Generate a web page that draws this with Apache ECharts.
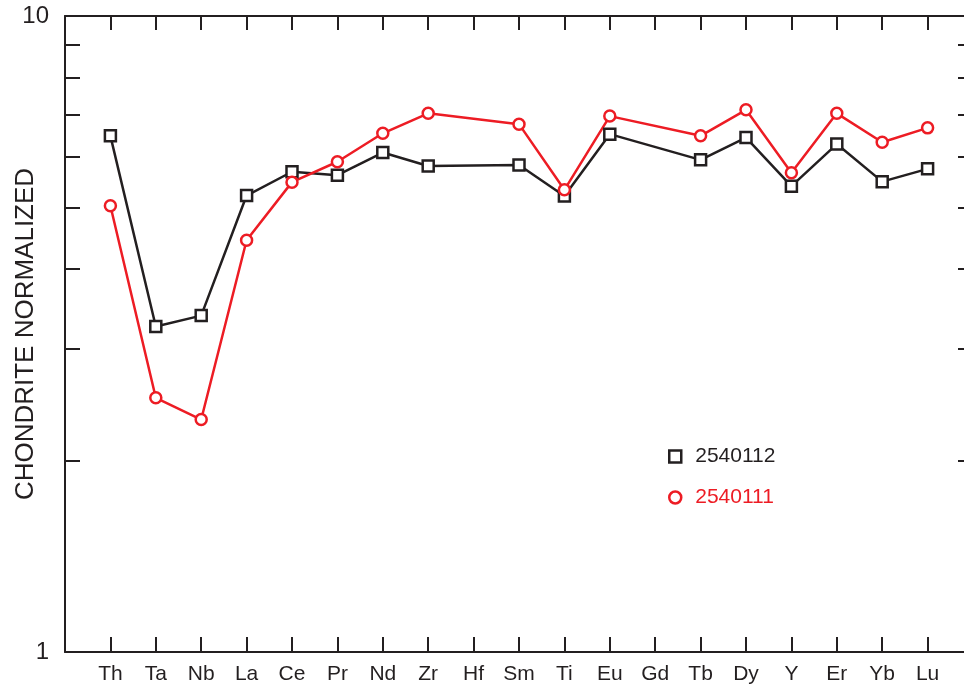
<!DOCTYPE html>
<html>
<head>
<meta charset="utf-8">
<script src="https://cdn.jsdelivr.net/npm/echarts@6/dist/echarts.min.js"></script>
<style>
html,body{margin:0;padding:0;background:#fff;}
#chart{width:964px;height:685px;}
</style>
</head>
<body>
<div id="chart"></div>
<script>
const categories = ['Th','Ta','Nb','La','Ce','Pr','Nd','Zr','Hf','Sm','Ti','Eu','Gd','Tb','Dy','Y','Er','Yb','Lu'];
const s2540112 = [6.48,3.25,3.38,5.22,5.69,5.62,6.10,5.81,null,5.83,5.21,6.52,null,5.94,6.44,5.40,6.29,5.49,5.75];
const s2540111 = [5.03,2.51,2.32,4.44,5.48,5.90,6.54,7.03,null,6.76,5.33,6.96,null,6.48,7.12,5.67,7.03,6.33,6.67];
const yTickValues = [1,2,3,4,5,6,7,8,9,10];
const yLabelValues = [1,10];

const BLACK = '#231f20';
const RED = '#ed1c24';
const FONT = 'Liberation Sans, Arial, Helvetica, sans-serif';

// pad the category axis with one blank slot at each end
const axisCats = [''].concat(categories, [' ']);
const pad = a => [null].concat(a, [null]);
const tickFilter = (idx, val) => String(val).trim() !== '';

const chart = echarts.init(document.getElementById('chart'), null, {renderer:'canvas'});
chart.setOption({
  animation: false,
  backgroundColor: '#fff',
  grid: {left: 65, top: 16, width: 908, bottom: 33, containLabel: false, outerBoundsMode: 'none'},
  xAxis: [{
    type: 'category', data: axisCats, boundaryGap: false, position: 'bottom',
    axisLine: {lineStyle: {color: BLACK, width: 2}},
    axisTick: {inside: true, length: 15, interval: tickFilter, lineStyle: {color: BLACK, width: 2}},
    axisLabel: {interval: 0, color: BLACK, fontSize: 21, fontFamily: FONT, margin: 12},
    splitLine: {show: false}
  }, {
    type: 'category', data: axisCats, boundaryGap: false, position: 'top',
    axisLine: {lineStyle: {color: BLACK, width: 2}},
    axisTick: {inside: true, length: 14, interval: tickFilter, lineStyle: {color: BLACK, width: 2}},
    axisLabel: {show: false},
    splitLine: {show: false}
  }],
  yAxis: [{
    type: 'log', logBase: 10, min: 1, max: 10, position: 'left',
    name: 'CHONDRITE NORMALIZED', nameLocation: 'middle', nameGap: 26, nameRotate: 90,
    nameMoveOverlap: false,
    nameTextStyle: {color: BLACK, fontSize: 26, fontFamily: FONT},
    axisLine: {show: true, lineStyle: {color: BLACK, width: 2}},
    axisTick: {show: true, inside: true, length: 15, customValues: yTickValues, lineStyle: {color: BLACK, width: 2}},
    axisLabel: {customValues: yLabelValues, color: BLACK, fontSize: 24, fontFamily: FONT, margin: 16},
    splitLine: {show: false}, minorTick: {show: false}
  }, {
    type: 'log', logBase: 10, min: 1, max: 10, position: 'right',
    axisLine: {show: true, lineStyle: {color: BLACK, width: 2}},
    axisTick: {show: true, inside: true, length: 15, customValues: yTickValues, lineStyle: {color: BLACK, width: 2}},
    axisLabel: {show: false},
    splitLine: {show: false}
  }],
  legend: {
    orient: 'vertical', left: 663, top: 441, itemWidth: 12, itemHeight: 12, itemGap: 20,
    textStyle: {fontSize: 21, fontFamily: FONT, padding: [0,0,0,9]},
    data: [
      {name: '2540112', icon: 'rect', itemStyle: {color: '#fff', borderColor: BLACK, borderWidth: 2.5}, textStyle: {color: BLACK}},
      {name: '2540111', icon: 'circle', itemStyle: {color: '#fff', borderColor: RED, borderWidth: 2.5}, textStyle: {color: RED}}
    ]
  },
  series: [{
    name: '2540112', type: 'line', data: pad(s2540112), connectNulls: true,
    symbol: 'rect', symbolSize: 11, showAllSymbol: true,
    lineStyle: {color: BLACK, width: 2.5},
    itemStyle: {color: '#fff', borderColor: BLACK, borderWidth: 2.5}
  }, {
    name: '2540111', type: 'line', data: pad(s2540111), connectNulls: true,
    symbol: 'circle', symbolSize: 11, showAllSymbol: true,
    lineStyle: {color: RED, width: 2.5},
    itemStyle: {color: '#fff', borderColor: RED, borderWidth: 2.5}
  }]
});
</script>
</body>
</html>
